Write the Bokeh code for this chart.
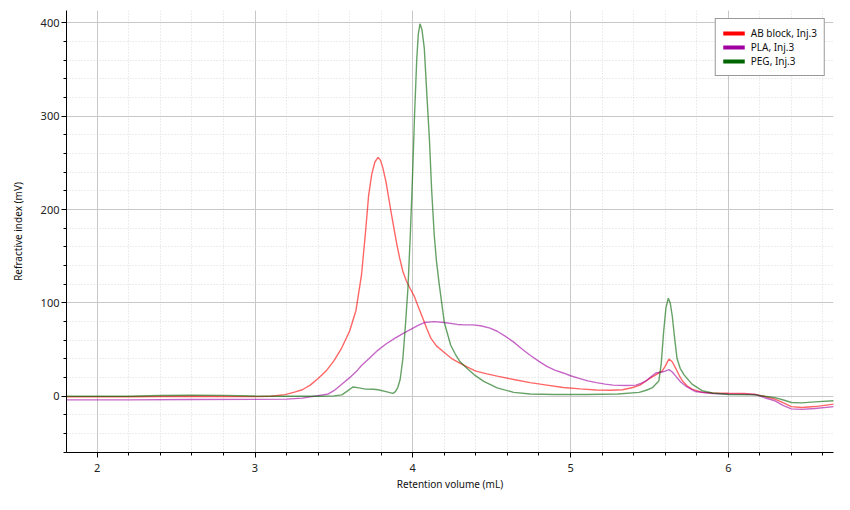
from bokeh.plotting import figure
from bokeh.models import Range1d, SingleIntervalTicker, Legend, LegendItem
from bokeh.embed import file_html
from bokeh.resources import INLINE

# ---- data ----
series_names = ["AB block, Inj.3", "PLA, Inj.3", "PEG, Inj.3"]

ab_x = [1.80, 2.2, 2.6, 3.0, 3.1, 3.19, 3.25, 3.30, 3.35, 3.40, 3.45, 3.50, 3.55, 3.60, 3.64,
        3.675, 3.70, 3.72, 3.74, 3.76, 3.78, 3.795, 3.81, 3.83, 3.845, 3.865, 3.885, 3.90, 3.917,
        3.937, 3.958, 3.985, 4.01, 4.035, 4.063, 4.09, 4.115, 4.15, 4.20, 4.25, 4.283, 4.35, 4.40,
        4.47, 4.535, 4.64, 4.744, 4.85, 4.954, 5.06, 5.164, 5.25, 5.33, 5.394, 5.44, 5.478, 5.51,
        5.54, 5.58, 5.60, 5.624, 5.645, 5.667, 5.69, 5.71, 5.74, 5.77, 5.834, 5.90, 6.0, 6.10,
        6.17, 6.23, 6.296, 6.35, 6.40, 6.465, 6.55, 6.67]
ab_y = [-0.5, -0.5, 0.0, -0.3, 0.0, 1.8, 4.5, 7, 12, 19, 27, 38, 52, 70, 92,
        130, 175, 215, 238, 251, 256, 253, 245, 230, 215, 195, 176, 162, 148,
        134, 124, 115, 107, 96, 84, 72, 62, 54, 47, 40, 37, 31, 27,
        24, 21.6, 18, 14.6, 12, 9.4, 8, 6.7, 6.5, 7, 9.4, 12, 16.4, 20,
        23, 27, 32, 40, 37, 30, 22, 16.4, 11, 7.7, 4.2, 3.5, 3.2, 3.0,
        2.0, 0.0, -3, -7, -11, -12, -11, -8.4]

pla_x = [1.80, 2.2, 2.6, 3.0, 3.2, 3.3, 3.40, 3.465, 3.50, 3.55, 3.60, 3.65, 3.675, 3.72, 3.78,
         3.83, 3.885, 3.94, 3.99, 4.04, 4.073, 4.136, 4.20, 4.283, 4.325, 4.38, 4.43, 4.49,
         4.535, 4.59, 4.64, 4.69, 4.744, 4.80, 4.85, 4.90, 4.954, 5.0, 5.06, 5.11, 5.164, 5.22,
         5.27, 5.35, 5.415, 5.45, 5.478, 5.51, 5.54, 5.58, 5.60, 5.624, 5.645, 5.667, 5.70,
         5.73, 5.79, 5.90, 6.0, 6.10, 6.17, 6.23, 6.296, 6.35, 6.40, 6.465, 6.55, 6.67]
pla_y = [-3.8, -3.8, -3.5, -3.3, -3.0, -2.0, 0.7, 2.5, 6, 13, 20, 28, 33, 40, 49.5,
         56, 62, 67.5, 72, 76.5, 79, 80, 79, 77, 76.5, 76.5, 75.6, 73,
         69.7, 64, 58, 51, 44, 37.5, 32, 28, 25, 22, 19, 16.5, 14.6, 13,
         12, 11.5, 12, 14, 16.4, 21, 25, 26, 27, 28.6, 26, 21.6, 15,
         11, 5.2, 3.0, 2.5, 2.3, 2.0, -1.5, -4.8, -10, -13.5, -14, -13, -11]

peg_x = [1.80, 2.2, 2.4, 2.6, 2.8, 3.0, 3.2, 3.4, 3.50, 3.55, 3.58, 3.62, 3.66, 3.70, 3.75,
         3.78, 3.83, 3.874, 3.89, 3.905, 3.92, 3.937, 3.953, 3.969, 3.985, 4.0, 4.011, 4.025,
         4.035, 4.046, 4.058, 4.073, 4.09, 4.105, 4.12, 4.136, 4.15, 4.167, 4.20, 4.24, 4.27,
         4.30, 4.35, 4.39, 4.45, 4.535, 4.64, 4.744, 4.90, 5.1, 5.3, 5.435, 5.48, 5.52, 5.56,
         5.575, 5.59, 5.605, 5.62, 5.632, 5.645, 5.66, 5.675, 5.695, 5.72, 5.77, 5.834, 5.90,
         6.0, 6.17, 6.23, 6.296, 6.35, 6.40, 6.465, 6.55, 6.67]
peg_y = [0.0, 0.0, 0.8, 1.2, 1.0, 0.3, 0.0, 0.0, 0.5, 1.5, 5, 10, 9, 7.7, 7.5,
         7, 5, 3.2, 5, 9.4, 18, 40, 75, 115, 175, 243, 300, 360,
         388, 399, 393, 373, 321, 277, 220, 173, 145, 121, 79, 55, 45,
         37, 29, 23, 16, 9, 4.2, 2.5, 2.0, 2.0, 2.5, 4.2, 6.5, 9.4, 16.4,
         35, 68.6, 95, 105, 100, 86, 62, 40.7, 30, 23, 13, 6, 3.5,
         2.0, 1.5, 0.0, -1.4, -4, -6.6, -7, -6, -4.8]

x_label = "Retention volume (mL)"
y_label = "Refractive index (mV)"

# ---- figure ----
FONT = "Noto Sans"
p = figure(width=834, height=494, output_backend="svg", toolbar_location=None,
           x_range=Range1d(1.805, 6.667), y_range=Range1d(-60.2, 413.3),
           min_border_left=66, min_border_right=1, min_border_top=10, min_border_bottom=42)
p.outline_line_color = None
p.background_fill_color = "white"
p.border_fill_color = "white"

p.xaxis.ticker = SingleIntervalTicker(interval=1, num_minor_ticks=5)
p.yaxis.ticker = SingleIntervalTicker(interval=100, num_minor_ticks=5)

for ax in (p.xaxis, p.yaxis):
    ax.axis_line_color = "black"
    ax.axis_line_width = 1
    ax.major_tick_line_color = "black"
    ax.minor_tick_line_color = "black"
    ax.major_tick_out = 5
    ax.major_tick_in = 0
    ax.minor_tick_out = 3
    ax.minor_tick_in = 0
    ax.major_label_text_font = FONT
    ax.major_label_text_font_size = "11px"
    ax.major_label_text_color = "#222222"
    ax.axis_label_text_font = FONT
    ax.axis_label_text_font_size = "10px"
    ax.axis_label_text_font_style = "normal"
    ax.axis_label_text_color = "#111111"

p.xaxis.axis_label = x_label
p.yaxis.axis_label = y_label
p.xaxis.major_label_standoff = 6
p.xaxis.axis_label_standoff = 2
p.yaxis.major_label_standoff = 2
p.yaxis.axis_label_standoff = 13

for g in (p.xgrid, p.ygrid):
    g.grid_line_color = "#c8c8c8"
    g.grid_line_width = 1
    g.minor_grid_line_color = "#dadada"
    g.minor_grid_line_dash = "1 2"
    g.minor_grid_line_width = 1

# ---- curves ----
colors = ["#ff0000", "#a000a0", "#006400"]
data = [(ab_x, ab_y), (pla_x, pla_y), (peg_x, peg_y)]
for (xs, ys), c in zip(data, colors):
    p.line(xs, ys, line_color=c, line_width=1.4, line_alpha=0.6)

# ---- legend (solid, thick swatches; proxy lines lie outside the visible range) ----
items = []
for name, c in zip(series_names, colors):
    r = p.line(x=[-10, -9], y=[-1000, -1000], line_color=c, line_width=4)
    items.append(LegendItem(label=name, renderers=[r]))
leg = Legend(items=items, location="top_right")
leg.label_text_font = FONT
leg.label_text_font_size = "10px"
leg.label_text_color = "#111111"
leg.glyph_width = 22
leg.glyph_height = 12
leg.label_height = 12
leg.label_standoff = 6
leg.spacing = 0
leg.padding = 7
leg.margin = 8
leg.border_line_color = "#333333"
leg.border_line_width = 1
leg.background_fill_color = "white"
leg.background_fill_alpha = 1
p.add_layout(leg)

open("out.html", "w").write(file_html(p, INLINE))
